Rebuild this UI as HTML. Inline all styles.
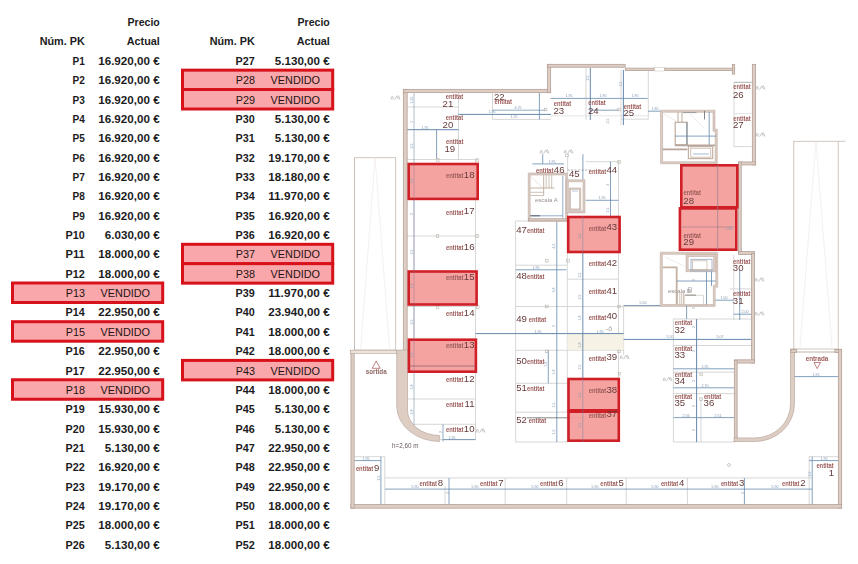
<!DOCTYPE html>
<html><head><meta charset="utf-8">
<style>
html,body{margin:0;padding:0;background:#fff;}
body{width:858px;height:564px;overflow:hidden;position:relative;}
svg{position:absolute;left:0;top:0;}
text{font-family:"Liberation Sans",sans-serif;}
.b{font-weight:bold;font-size:10.6px;fill:#1c1c1e;}
.r{font-size:10.6px;fill:#1e1414;}
.l{font-size:6.3px;font-weight:bold;fill:#9c5c5a;}
.n{font-size:9.6px;fill:#663a3a;}
.g{font-size:5px;fill:#aaa;}
.g2{font-size:6px;fill:#9a8f8f;}
.g4{font-size:7px;fill:#a09c9a;}
.d{font-size:3.6px;fill:#7f97b0;}
.g3{font-size:6.3px;fill:#6a5a5a;}
</style></head><body>
<svg width="858" height="564" viewBox="0 0 858 564">
<g style="filter:blur(0.3px)">
<rect x="354.5" y="157.7" width="41.19999999999999" height="192.3" fill="none" stroke="#c6bab0" stroke-width="0.8"/>
<path d="M360.5 350 L375.1 157.7 L389.7 350" fill="none" stroke="#ece8e4" stroke-width="0.6"/>
<line x1="354.5" y1="157.7" x2="354.5" y2="350" stroke="#c6bab0" stroke-width="0.8"/>
<rect x="793.8" y="141.3" width="44.40000000000009" height="207.7" fill="none" stroke="#c6bab0" stroke-width="0.8"/>
<path d="M799.8 349 L816.0 141.3 L832.2 349" fill="none" stroke="#ece8e4" stroke-width="0.6"/>
<line x1="838.2" y1="141.3" x2="845.7" y2="141.3" stroke="#c6bab0" stroke-width="0.8"/>
<line x1="475.5" y1="160" x2="475.5" y2="440" stroke="#cdcdcd" stroke-width="0.8"/>
<line x1="458.5" y1="93" x2="458.5" y2="160" stroke="#cdcdcd" stroke-width="0.8"/>
<line x1="407" y1="107" x2="458.5" y2="107" stroke="#cdcdcd" stroke-width="0.8"/>
<line x1="407" y1="159.5" x2="478" y2="159.5" stroke="#cdcdcd" stroke-width="0.8"/>
<line x1="407" y1="236" x2="478" y2="236" stroke="#cdcdcd" stroke-width="0.8"/>
<line x1="407" y1="306.5" x2="478" y2="306.5" stroke="#cdcdcd" stroke-width="0.8"/>
<line x1="407" y1="399" x2="475.5" y2="399" stroke="#cdcdcd" stroke-width="0.8"/>
<line x1="407" y1="424.3" x2="475.5" y2="424.3" stroke="#cdcdcd" stroke-width="0.8"/>
<line x1="440" y1="439.6" x2="475.5" y2="439.6" stroke="#cdcdcd" stroke-width="0.8"/>
<line x1="492.5" y1="93" x2="492.5" y2="119.4" stroke="#cdcdcd" stroke-width="0.8"/>
<line x1="492.5" y1="119.4" x2="551" y2="119.4" stroke="#cdcdcd" stroke-width="0.8"/>
<line x1="551" y1="115.8" x2="648" y2="115.8" stroke="#dedede" stroke-width="0.8"/>
<line x1="586" y1="68" x2="586" y2="120" stroke="#cdcdcd" stroke-width="0.8"/>
<line x1="621" y1="70" x2="621" y2="125" stroke="#cdcdcd" stroke-width="0.8"/>
<line x1="648.3" y1="70" x2="648.3" y2="119.2" stroke="#cdcdcd" stroke-width="0.8"/>
<line x1="621" y1="119.2" x2="648.3" y2="119.2" stroke="#cdcdcd" stroke-width="0.8"/>
<line x1="515.6" y1="221" x2="515.6" y2="442" stroke="#cdcdcd" stroke-width="0.8"/>
<line x1="515.6" y1="221" x2="528" y2="221" stroke="#cdcdcd" stroke-width="0.8"/>
<line x1="567.3" y1="221" x2="567.3" y2="442" stroke="#cdcdcd" stroke-width="0.8"/>
<line x1="618.5" y1="161.7" x2="618.5" y2="442" stroke="#cdcdcd" stroke-width="0.8"/>
<line x1="585.8" y1="161.7" x2="620" y2="161.7" stroke="#cdcdcd" stroke-width="0.8"/>
<line x1="515.6" y1="265.2" x2="567" y2="265.2" stroke="#cdcdcd" stroke-width="0.8"/>
<line x1="567" y1="279.2" x2="618.5" y2="279.2" stroke="#cdcdcd" stroke-width="0.8"/>
<line x1="515.6" y1="306.5" x2="660" y2="306.5" stroke="#cdcdcd" stroke-width="0.8"/>
<line x1="515.6" y1="350.3" x2="623.6" y2="350.3" stroke="#cdcdcd" stroke-width="0.8"/>
<line x1="515.6" y1="383.3" x2="567" y2="383.3" stroke="#cdcdcd" stroke-width="0.8"/>
<line x1="515.6" y1="412.2" x2="567" y2="412.2" stroke="#cdcdcd" stroke-width="0.8"/>
<line x1="515.6" y1="442" x2="567" y2="442" stroke="#cdcdcd" stroke-width="0.8"/>
<line x1="623.6" y1="305.5" x2="623.6" y2="355" stroke="#cdcdcd" stroke-width="0.8"/>
<rect x="567.5" y="334" width="56" height="16.3" fill="#f6f3e6"/>
<line x1="673.4" y1="319" x2="752" y2="319" stroke="#cdcdcd" stroke-width="0.8"/>
<line x1="673.4" y1="319" x2="673.4" y2="442" stroke="#cdcdcd" stroke-width="0.8"/>
<line x1="701" y1="398.5" x2="701" y2="442" stroke="#cdcdcd" stroke-width="0.8"/>
<line x1="673.4" y1="345.5" x2="752" y2="345.5" stroke="#cdcdcd" stroke-width="0.8"/>
<line x1="673.4" y1="372.2" x2="735" y2="372.2" stroke="#cdcdcd" stroke-width="0.8"/>
<line x1="673.4" y1="393.6" x2="735" y2="393.6" stroke="#cdcdcd" stroke-width="0.8"/>
<line x1="673.4" y1="442" x2="735" y2="442" stroke="#cdcdcd" stroke-width="0.8"/>
<line x1="733.8" y1="255" x2="733.8" y2="320" stroke="#cdcdcd" stroke-width="0.8"/>
<line x1="730" y1="288.9" x2="752" y2="288.9" stroke="#cdcdcd" stroke-width="0.8"/>
<line x1="734" y1="82.3" x2="734" y2="146.6" stroke="#cdcdcd" stroke-width="0.8"/>
<line x1="734" y1="82.3" x2="751.7" y2="82.3" stroke="#9a9a9a" stroke-width="0.8"/>
<line x1="734" y1="113.5" x2="751.7" y2="113.5" stroke="#e0e0e0" stroke-width="0.8"/>
<line x1="734" y1="146.6" x2="751.7" y2="146.6" stroke="#cdcdcd" stroke-width="0.8"/>
<line x1="384.8" y1="477.9" x2="812" y2="477.9" stroke="#cdcdcd" stroke-width="0.8"/>
<line x1="384.8" y1="456.4" x2="384.8" y2="505" stroke="#cdcdcd" stroke-width="0.8"/>
<line x1="354.5" y1="456.7" x2="385" y2="456.7" stroke="#cdcdcd" stroke-width="0.8"/>
<line x1="505.2" y1="477.9" x2="505.2" y2="505" stroke="#cdcdcd" stroke-width="0.8"/>
<line x1="566.7" y1="477.9" x2="566.7" y2="505" stroke="#cdcdcd" stroke-width="0.8"/>
<line x1="626.2" y1="477.9" x2="626.2" y2="505" stroke="#cdcdcd" stroke-width="0.8"/>
<line x1="687.4" y1="477.9" x2="687.4" y2="505" stroke="#cdcdcd" stroke-width="0.8"/>
<line x1="445" y1="486" x2="445" y2="505" stroke="#cdcdcd" stroke-width="0.8"/>
<line x1="809.2" y1="456.7" x2="809.2" y2="505" stroke="#cdcdcd" stroke-width="0.8"/>
<line x1="809.2" y1="456.7" x2="838" y2="456.7" stroke="#cdcdcd" stroke-width="0.8"/>
<line x1="414" y1="93" x2="414" y2="425" stroke="#8aa3bd" stroke-width="0.7"/>
<line x1="406.5" y1="129.7" x2="458.5" y2="129.7" stroke="#6489ad" stroke-width="1.0"/>
<line x1="436.6" y1="129.7" x2="436.6" y2="159" stroke="#6489ad" stroke-width="0.8"/>
<line x1="458.5" y1="114.4" x2="551" y2="114.4" stroke="#6489ad" stroke-width="1.0"/>
<line x1="539.4" y1="93" x2="539.4" y2="119.4" stroke="#6489ad" stroke-width="0.8"/>
<line x1="590.3" y1="68" x2="590.3" y2="120" stroke="#6489ad" stroke-width="1.0"/>
<line x1="550.5" y1="98.4" x2="647.7" y2="98.4" stroke="#6489ad" stroke-width="0.8"/>
<line x1="589.6" y1="110.2" x2="619" y2="110.2" stroke="#6489ad" stroke-width="0.8"/>
<line x1="492.4" y1="110.2" x2="545.6" y2="110.2" stroke="#6489ad" stroke-width="0.7"/>
<line x1="623.4" y1="70" x2="623.4" y2="125" stroke="#6489ad" stroke-width="1.0"/>
<line x1="648" y1="111.2" x2="661" y2="111.2" stroke="#6489ad" stroke-width="0.8"/>
<line x1="532.4" y1="163.9" x2="564.2" y2="163.9" stroke="#6489ad" stroke-width="0.8"/>
<line x1="542.7" y1="154.2" x2="542.7" y2="163.9" stroke="#6489ad" stroke-width="0.8"/>
<line x1="582.9" y1="154.2" x2="582.9" y2="179.8" stroke="#6489ad" stroke-width="0.8"/>
<line x1="610.5" y1="161.7" x2="610.5" y2="216" stroke="#6489ad" stroke-width="0.8"/>
<line x1="585.8" y1="200.3" x2="618.5" y2="200.3" stroke="#6489ad" stroke-width="0.8"/>
<line x1="582.8" y1="216" x2="582.8" y2="442" stroke="#6489ad" stroke-width="0.7"/>
<line x1="556.8" y1="221" x2="556.8" y2="442" stroke="#6489ad" stroke-width="0.8"/>
<line x1="515.6" y1="269.8" x2="566.5" y2="269.8" stroke="#6489ad" stroke-width="0.8"/>
<line x1="475.5" y1="333.6" x2="623.6" y2="333.6" stroke="#6489ad" stroke-width="1.0"/>
<line x1="623.6" y1="305.5" x2="660.8" y2="305.5" stroke="#6489ad" stroke-width="0.8"/>
<line x1="623.6" y1="339.4" x2="751.5" y2="339.4" stroke="#6489ad" stroke-width="1.0"/>
<line x1="548.3" y1="350.3" x2="548.3" y2="383.3" stroke="#6489ad" stroke-width="0.8"/>
<line x1="696.6" y1="319" x2="696.6" y2="442" stroke="#6489ad" stroke-width="1.0"/>
<line x1="739.7" y1="270" x2="739.7" y2="320" stroke="#6489ad" stroke-width="0.8"/>
<line x1="733.8" y1="314.2" x2="752" y2="314.2" stroke="#6489ad" stroke-width="0.8"/>
<line x1="714.6" y1="300.2" x2="733.8" y2="300.2" stroke="#6489ad" stroke-width="0.8"/>
<line x1="673.4" y1="368.8" x2="735" y2="368.8" stroke="#6489ad" stroke-width="0.8"/>
<line x1="673.4" y1="387.8" x2="735" y2="387.8" stroke="#6489ad" stroke-width="0.8"/>
<line x1="673.4" y1="417.6" x2="735" y2="417.6" stroke="#6489ad" stroke-width="0.8"/>
<line x1="385" y1="489.1" x2="812" y2="489.1" stroke="#6489ad" stroke-width="0.8"/>
<line x1="380.9" y1="456.7" x2="380.9" y2="505" stroke="#6489ad" stroke-width="0.8"/>
<line x1="354.5" y1="460.6" x2="380.9" y2="460.6" stroke="#6489ad" stroke-width="0.8"/>
<line x1="449" y1="478" x2="449" y2="505" stroke="#6489ad" stroke-width="0.8"/>
<line x1="744.4" y1="478" x2="744.4" y2="505" stroke="#6489ad" stroke-width="0.8"/>
<line x1="812.2" y1="456.7" x2="812.2" y2="505" stroke="#6489ad" stroke-width="0.8"/>
<line x1="809" y1="460.6" x2="838" y2="460.6" stroke="#6489ad" stroke-width="0.8"/>
<line x1="794" y1="376.6" x2="838" y2="376.6" stroke="#6489ad" stroke-width="0.8"/>
<line x1="443" y1="439.6" x2="475.5" y2="439.6" stroke="#6489ad" stroke-width="0.8"/>
<line x1="443" y1="424.3" x2="443" y2="441.5" stroke="#6489ad" stroke-width="0.7"/>
<line x1="527" y1="417.8" x2="585" y2="417.8" stroke="#555" stroke-width="0.7"/>
<rect x="436.5" y="158.7" width="2.6" height="2.6" fill="none" stroke="#b9b2a8" stroke-width="0.6"/>
<rect x="476.0" y="158.7" width="2.6" height="2.6" fill="none" stroke="#b9b2a8" stroke-width="0.6"/>
<rect x="436.2" y="234.7" width="2.6" height="2.6" fill="none" stroke="#b9b2a8" stroke-width="0.6"/>
<rect x="475.8" y="234.7" width="2.6" height="2.6" fill="none" stroke="#b9b2a8" stroke-width="0.6"/>
<rect x="436.2" y="305.7" width="2.6" height="2.6" fill="none" stroke="#b9b2a8" stroke-width="0.6"/>
<rect x="476.4" y="305.7" width="2.6" height="2.6" fill="none" stroke="#b9b2a8" stroke-width="0.6"/>
<rect x="545.5" y="259.4" width="2.6" height="2.6" fill="none" stroke="#b9b2a8" stroke-width="0.6"/>
<rect x="566.7" y="259.4" width="2.6" height="2.6" fill="none" stroke="#b9b2a8" stroke-width="0.6"/>
<rect x="545.5" y="305.2" width="2.6" height="2.6" fill="none" stroke="#b9b2a8" stroke-width="0.6"/>
<rect x="617.7" y="305.2" width="2.6" height="2.6" fill="none" stroke="#b9b2a8" stroke-width="0.6"/>
<rect x="545.5" y="350.09999999999997" width="2.6" height="2.6" fill="none" stroke="#b9b2a8" stroke-width="0.6"/>
<rect x="617.7" y="350.09999999999997" width="2.6" height="2.6" fill="none" stroke="#b9b2a8" stroke-width="0.6"/>
<rect x="618.1" y="372.4" width="2.6" height="2.6" fill="none" stroke="#b9b2a8" stroke-width="0.6"/>
<rect x="565.7" y="154.2" width="2.6" height="2.6" fill="none" stroke="#b9b2a8" stroke-width="0.6"/>
<rect x="617.7" y="108.2" width="2.6" height="2.6" fill="none" stroke="#b9b2a8" stroke-width="0.6"/>
<rect x="544.3000000000001" y="108.2" width="2.6" height="2.6" fill="none" stroke="#b9b2a8" stroke-width="0.6"/>
<rect x="617.7" y="160.7" width="2.6" height="2.6" fill="none" stroke="#b9b2a8" stroke-width="0.6"/>
<rect x="699.9000000000001" y="373.2" width="2.6" height="2.6" fill="none" stroke="#b9b2a8" stroke-width="0.6"/>
<rect x="699.7" y="397.7" width="2.6" height="2.6" fill="none" stroke="#b9b2a8" stroke-width="0.6"/>
<rect x="403.35" y="89.35" width="3.80" height="262.30" fill="#ddcdc3" stroke="#b4a098" stroke-width="0.8"/>
<rect x="403.35" y="89.35" width="147.30" height="3.30" fill="#ddcdc3" stroke="#b4a098" stroke-width="0.8"/>
<rect x="547.35" y="64.35" width="3.30" height="28.30" fill="#ddcdc3" stroke="#b4a098" stroke-width="0.8"/>
<rect x="547.35" y="64.35" width="77.80" height="2.90" fill="#ddcdc3" stroke="#b4a098" stroke-width="0.8"/>
<rect x="625.35" y="68.15" width="28.80" height="2.30" fill="#ddcdc3" stroke="#b4a098" stroke-width="0.8"/>
<rect x="664.55" y="68.15" width="70.10" height="2.30" fill="#ddcdc3" stroke="#b4a098" stroke-width="0.8"/>
<rect x="654.5" y="67.6" width="9.7" height="3.4" fill="#fff" stroke="#c9bdb1" stroke-width="0.5"/>
<rect x="732.35" y="64.35" width="2.30" height="9.80" fill="#ddcdc3" stroke="#b4a098" stroke-width="0.8"/>
<rect x="752.35" y="64.35" width="3.30" height="100.60" fill="#ddcdc3" stroke="#b4a098" stroke-width="0.8"/>
<rect x="738.65" y="161.95" width="17.00" height="3.00" fill="#ddcdc3" stroke="#b4a098" stroke-width="0.8"/>
<rect x="738.65" y="161.95" width="2.60" height="92.20" fill="#ddcdc3" stroke="#b4a098" stroke-width="0.8"/>
<rect x="738.65" y="251.55" width="15.80" height="2.90" fill="#ddcdc3" stroke="#b4a098" stroke-width="0.8"/>
<rect x="751.55" y="253.35" width="2.90" height="109.70" fill="#ddcdc3" stroke="#b4a098" stroke-width="0.8"/>
<rect x="734.35" y="359.85" width="20.10" height="3.20" fill="#ddcdc3" stroke="#b4a098" stroke-width="0.8"/>
<rect x="734.35" y="360.35" width="2.80" height="80.80" fill="#ddcdc3" stroke="#b4a098" stroke-width="0.8"/>
<path d="M734 437.9 L755 437.9 A35.5 33.9 0 0 0 790.5 404 L790.5 349 L794.5 349 L794.5 404 A39.5 37.5 0 0 1 755 441.5 L734 441.5 Z" fill="#ddcdc3" stroke="#b4a098" stroke-width="0.6"/>
<line x1="794.5" y1="352" x2="838" y2="352" stroke="#b9aca0" stroke-width="0.9"/>
<rect x="790.85" y="349.35" width="5.80" height="3.00" fill="#ddcdc3" stroke="#b4a098" stroke-width="0.8"/>
<rect x="834.85" y="349.35" width="6.80" height="3.00" fill="#ddcdc3" stroke="#b4a098" stroke-width="0.8"/>
<rect x="838.35" y="349.35" width="3.30" height="158.80" fill="#ddcdc3" stroke="#b4a098" stroke-width="0.8"/>
<rect x="350.95" y="504.55" width="490.70" height="3.60" fill="#ddcdc3" stroke="#b4a098" stroke-width="0.8"/>
<rect x="350.95" y="350.35" width="3.20" height="157.80" fill="#ddcdc3" stroke="#b4a098" stroke-width="0.8"/>
<rect x="350.6" y="350.2" width="46.1" height="3.2" fill="#ece4dc" stroke="#b5a596" stroke-width="0.6"/>
<path d="M396.7 350 L407.5 350 L407.5 410 A32.2 25.5 0 0 0 439.7 435.5 L439.7 441.5 A43 35.5 0 0 1 396.7 406 Z" fill="#ddcdc3" stroke="#b4a098" stroke-width="0.6"/>
<path d="M528.2 173 H567.6 V221.3 H528.2 Z M530.2 175.0 V219.3 H565.6 V175.0 Z" fill="#ddcdc3" fill-rule="evenodd" stroke="#b4a098" stroke-width="0.5"/>
<rect x="528.55" y="218.75" width="38.70" height="2.20" fill="#ddcdc3" stroke="#b4a098" stroke-width="0.8"/>
<path d="M566.3 179.8 H585 V213 H566.3 Z M568.3 181.8 V211.0 H583.0 V181.8 Z" fill="#ddcdc3" fill-rule="evenodd" stroke="#b4a098" stroke-width="0.5"/>
<path d="M569.2 188 H580.8 V210.2 H569.2 Z M570.5 189.3 V208.89999999999998 H579.5 V189.3 Z" fill="#ddcdc3" fill-rule="evenodd" stroke="#b4a098" stroke-width="0.5"/>
<line x1="572" y1="191" x2="578" y2="191" stroke="#8da2c0" stroke-width="0.6"/>
<line x1="543.7" y1="175" x2="543.7" y2="195.7" stroke="#c3b2a3" stroke-width="1.0"/>
<line x1="530.3" y1="188" x2="554.5" y2="188" stroke="#c3b2a3" stroke-width="1.0"/>
<line x1="530.3" y1="192.3" x2="543.7" y2="192.3" stroke="#c3b2a3" stroke-width="0.8"/>
<line x1="530.3" y1="195.5" x2="543.7" y2="195.5" stroke="#c3b2a3" stroke-width="0.8"/>
<line x1="546.2" y1="175" x2="546.2" y2="188" stroke="#c3b2a3" stroke-width="0.8"/>
<line x1="549" y1="175" x2="549" y2="188" stroke="#c3b2a3" stroke-width="0.8"/>
<line x1="551.7" y1="175" x2="551.7" y2="188" stroke="#c3b2a3" stroke-width="0.8"/>
<line x1="531" y1="176.4" x2="542.7" y2="188" stroke="#d8d0c8" stroke-width="0.6"/>
<text class="g2" x="535" y="202.3" text-anchor="start" >escala A</text>
<line x1="562.8" y1="175.7" x2="562.8" y2="217.8" stroke="#6489ad" stroke-width="0.7"/>
<line x1="530.3" y1="215.8" x2="562.8" y2="215.8" stroke="#6489ad" stroke-width="0.7"/>
<line x1="530.3" y1="215.8" x2="540" y2="215.8" stroke="#445" stroke-width="0.8"/>
<line x1="567.6" y1="155.6" x2="567.6" y2="179.8" stroke="#c8c8c8" stroke-width="0.7"/>
<line x1="567.6" y1="170" x2="592" y2="170" stroke="#777" stroke-width="0.6" stroke-dasharray="2,1.5"/>
<path d="M660.5 110.2 H715 V129.2 H717.3 V163.8 H660.5 Z M662.6 112.3 V161.8 H715.2 V131.2 H713 V112.3 Z" fill="#ddcdc3" fill-rule="evenodd" stroke="#b4a098" stroke-width="0.5"/>
<rect x="675.2" y="122.3" width="12.1" height="22.5" fill="none" stroke="#c3b2a3" stroke-width="1.3"/>
<rect x="675.35" y="144.95" width="39.30" height="0.90" fill="#ddcdc3" stroke="#b4a098" stroke-width="0.8"/>
<line x1="675" y1="136.1" x2="716" y2="136.1" stroke="#6489ad" stroke-width="0.8"/>
<line x1="686.7" y1="122.3" x2="686.7" y2="144.8" stroke="#6489ad" stroke-width="0.8"/>
<line x1="709.2" y1="112" x2="709.2" y2="144.8" stroke="#6489ad" stroke-width="0.8"/>
<rect x="688.4" y="146.5" width="24.3" height="12.1" fill="none" stroke="#c3b2a3" stroke-width="1.2"/>
<rect x="690.8" y="148.2" width="20" height="9" fill="none" stroke="#c3b2a3" stroke-width="0.8"/>
<line x1="693" y1="154" x2="709" y2="154" stroke="#7f9cc0" stroke-width="0.7"/>
<rect x="662.85" y="148.95" width="24.10" height="0.90" fill="#ddcdc3" stroke="#b4a098" stroke-width="0.8"/>
<line x1="678" y1="112" x2="678" y2="122.3" stroke="#c3b2a3" stroke-width="1.1"/>
<line x1="682" y1="112" x2="682" y2="122.3" stroke="#c3b2a3" stroke-width="1.1"/>
<line x1="704.5" y1="110.8" x2="704.5" y2="119.4" stroke="#777" stroke-width="0.9"/>
<line x1="683" y1="112.6" x2="696.5" y2="112.6" stroke="#8a8a8a" stroke-width="0.8"/>
<line x1="664" y1="114" x2="676" y2="121" stroke="#e0dcd8" stroke-width="0.6"/>
<line x1="690" y1="114" x2="704" y2="128" stroke="#e0dcd8" stroke-width="0.6"/>
<path d="M660.2 252.2 H717.7 V287.2 H715.2 V306.4 H660.2 Z M662.4 254.3 V304.6 H713.3 V285.2 H715.8 V254.3 Z" fill="#ddcdc3" fill-rule="evenodd" stroke="#b4a098" stroke-width="0.5"/>
<path d="M686 254.3 H715.8 V271.7 H686 Z M688.2 256.5 V269.5 H713.5999999999999 V256.5 Z" fill="#ddcdc3" fill-rule="evenodd" stroke="#b4a098" stroke-width="0.5"/>
<rect x="691" y="259.3" width="21" height="11.7" fill="none" stroke="#8fa6c4" stroke-width="0.8"/>
<rect x="692.5" y="260.8" width="14.5" height="9" fill="none" stroke="#c3b2a3" stroke-width="0.7"/>
<path d="M663 267.3 H676.7 V304.6" fill="none" stroke="#c3b2a3" stroke-width="1.8"/>
<line x1="676.7" y1="281" x2="715.8" y2="281" stroke="#6489ad" stroke-width="0.8"/>
<line x1="706.5" y1="271.7" x2="706.5" y2="304.6" stroke="#6489ad" stroke-width="0.8"/>
<line x1="711.5" y1="271.7" x2="711.5" y2="286" stroke="#6489ad" stroke-width="0.8"/>
<text class="g2" x="668" y="292.8" text-anchor="start" >escala B</text>
<rect x="688.2" y="287.8" width="3.4" height="4.2" fill="none" stroke="#999" stroke-width="0.6"/>
<line x1="684.8" y1="295.2" x2="696" y2="295.2" stroke="#555" stroke-width="0.9"/>
<line x1="677.3" y1="292" x2="677.3" y2="304.6" stroke="#c3b2a3" stroke-width="0.8"/>
<line x1="679.8" y1="292" x2="679.8" y2="304.6" stroke="#c3b2a3" stroke-width="0.8"/>
<line x1="681.7" y1="292" x2="681.7" y2="304.6" stroke="#c3b2a3" stroke-width="0.8"/>
<line x1="683.5" y1="292" x2="683.5" y2="304.6" stroke="#c3b2a3" stroke-width="0.8"/>
<rect x="684.8" y="295.2" width="18.6" height="10.4" fill="none" stroke="#c8c0b8" stroke-width="0.6"/>
<line x1="686.6" y1="305.8" x2="686.6" y2="319" stroke="#6489ad" stroke-width="0.8"/>
<line x1="665" y1="257" x2="684" y2="266" stroke="#e3dfdb" stroke-width="0.6"/>
<rect x="408.7" y="164.0" width="69.00" height="34.90" fill="#f39e9c" fill-opacity="0.95" stroke="#cf1f27" stroke-width="2.6"/>
<rect x="408.7" y="271.5" width="67.90" height="33.00" fill="#f39e9c" fill-opacity="0.95" stroke="#cf1f27" stroke-width="2.6"/>
<rect x="408.90000000000003" y="339.7" width="67.00" height="32.00" fill="#f39e9c" fill-opacity="0.95" stroke="#cf1f27" stroke-width="2.6"/>
<rect x="568.1999999999999" y="217.0" width="51.40" height="35.00" fill="#f39e9c" fill-opacity="0.95" stroke="#cf1f27" stroke-width="2.6"/>
<rect x="568.5" y="379.0" width="50.30" height="31.30" fill="#f39e9c" fill-opacity="0.95" stroke="#cf1f27" stroke-width="2.6"/>
<rect x="568.5" y="411.7" width="50.30" height="29.00" fill="#f39e9c" fill-opacity="0.95" stroke="#cf1f27" stroke-width="2.6"/>
<rect x="681.3" y="165.3" width="56.00" height="42.00" fill="#f39e9c" fill-opacity="0.95" stroke="#cf1f27" stroke-width="2.6"/>
<rect x="679.9" y="208.4" width="56.40" height="41.30" fill="#f39e9c" fill-opacity="0.95" stroke="#cf1f27" stroke-width="2.6"/>
<line x1="414" y1="163" x2="414" y2="373" stroke="#8a6f90" stroke-width="0.6" opacity="0.6"/>
<line x1="582.8" y1="216" x2="582.8" y2="442" stroke="#6489ad" stroke-width="0.7" opacity="0.6"/>
<line x1="717.7" y1="165" x2="717.7" y2="250" stroke="#9a7c86" stroke-width="0.7"/>
<line x1="680.6" y1="227" x2="734.5" y2="227" stroke="#9a7c86" stroke-width="0.6"/>
<line x1="410" y1="366" x2="476" y2="366" stroke="#7a5060" stroke-width="0.6"/>
<text class="n" x="474.5" y="177.6" text-anchor="end" >18</text>
<text class="l" x="463.5" y="178.0" text-anchor="end" textLength="17.4" lengthAdjust="spacingAndGlyphs">entitat</text>
<text class="n" x="474.5" y="214.1" text-anchor="end" >17</text>
<text class="l" x="463.5" y="214.5" text-anchor="end" textLength="17.4" lengthAdjust="spacingAndGlyphs">entitat</text>
<text class="n" x="474.5" y="249.9" text-anchor="end" >16</text>
<text class="l" x="463.5" y="250.3" text-anchor="end" textLength="17.4" lengthAdjust="spacingAndGlyphs">entitat</text>
<text class="n" x="474.5" y="279.5" text-anchor="end" >15</text>
<text class="l" x="463.5" y="279.9" text-anchor="end" textLength="17.4" lengthAdjust="spacingAndGlyphs">entitat</text>
<text class="n" x="474.5" y="315.8" text-anchor="end" >14</text>
<text class="l" x="463.5" y="316.2" text-anchor="end" textLength="17.4" lengthAdjust="spacingAndGlyphs">entitat</text>
<text class="n" x="474.5" y="347.8" text-anchor="end" >13</text>
<text class="l" x="463.5" y="348.2" text-anchor="end" textLength="17.4" lengthAdjust="spacingAndGlyphs">entitat</text>
<text class="n" x="474.5" y="381.8" text-anchor="end" >12</text>
<text class="l" x="463.5" y="382.2" text-anchor="end" textLength="17.4" lengthAdjust="spacingAndGlyphs">entitat</text>
<text class="n" x="474.5" y="406.6" text-anchor="end" >11</text>
<text class="l" x="463.5" y="407.0" text-anchor="end" textLength="17.4" lengthAdjust="spacingAndGlyphs">entitat</text>
<text class="n" x="474.5" y="431.6" text-anchor="end" >10</text>
<text class="l" x="463.5" y="432.0" text-anchor="end" textLength="17.4" lengthAdjust="spacingAndGlyphs">entitat</text>
<text class="n" x="617.2" y="173.1" text-anchor="end" >44</text>
<text class="l" x="606.2" y="173.5" text-anchor="end" textLength="17.4" lengthAdjust="spacingAndGlyphs">entitat</text>
<text class="n" x="617.2" y="230.2" text-anchor="end" >43</text>
<text class="l" x="606.2" y="230.6" text-anchor="end" textLength="17.4" lengthAdjust="spacingAndGlyphs">entitat</text>
<text class="n" x="617.2" y="265.6" text-anchor="end" >42</text>
<text class="l" x="606.2" y="266.0" text-anchor="end" textLength="17.4" lengthAdjust="spacingAndGlyphs">entitat</text>
<text class="n" x="617.2" y="293.6" text-anchor="end" >41</text>
<text class="l" x="606.2" y="294.0" text-anchor="end" textLength="17.4" lengthAdjust="spacingAndGlyphs">entitat</text>
<text class="n" x="617.2" y="319.3" text-anchor="end" >40</text>
<text class="l" x="606.2" y="319.7" text-anchor="end" textLength="17.4" lengthAdjust="spacingAndGlyphs">entitat</text>
<text class="n" x="617.2" y="360.1" text-anchor="end" >39</text>
<text class="l" x="606.2" y="360.5" text-anchor="end" textLength="17.4" lengthAdjust="spacingAndGlyphs">entitat</text>
<text class="n" x="617.2" y="392.70000000000005" text-anchor="end" >38</text>
<text class="l" x="606.2" y="393.1" text-anchor="end" textLength="17.4" lengthAdjust="spacingAndGlyphs">entitat</text>
<text class="n" x="617.2" y="417.3" text-anchor="end" >37</text>
<text class="l" x="606.2" y="417.7" text-anchor="end" textLength="17.4" lengthAdjust="spacingAndGlyphs">entitat</text>
<text class="n" x="564.5" y="172.6" text-anchor="end" >46</text>
<text class="l" x="553.5" y="173.0" text-anchor="end" textLength="17.4" lengthAdjust="spacingAndGlyphs">entitat</text>
<text class="n" x="569" y="177.3" text-anchor="start" >45</text>
<text class="n" x="516.2" y="233.4" text-anchor="start" >47</text>
<text class="l" x="527" y="233.2" text-anchor="start" textLength="17.4" lengthAdjust="spacingAndGlyphs">entitat</text>
<text class="n" x="516.2" y="279.29999999999995" text-anchor="start" >48</text>
<text class="l" x="527" y="279.09999999999997" text-anchor="start" textLength="17.4" lengthAdjust="spacingAndGlyphs">entitat</text>
<text class="n" x="516.2" y="322.2" text-anchor="start" >49</text>
<text class="l" x="528.8" y="322.0" text-anchor="start" textLength="17.4" lengthAdjust="spacingAndGlyphs">entitat</text>
<text class="n" x="516.2" y="364.4" text-anchor="start" >50</text>
<text class="l" x="527" y="364.2" text-anchor="start" textLength="17.4" lengthAdjust="spacingAndGlyphs">entitat</text>
<text class="n" x="516.2" y="391.2" text-anchor="start" >51</text>
<text class="l" x="527" y="391.0" text-anchor="start" textLength="17.4" lengthAdjust="spacingAndGlyphs">entitat</text>
<text class="n" x="516.2" y="423.4" text-anchor="start" >52</text>
<text class="l" x="528.8" y="423.2" text-anchor="start" textLength="17.4" lengthAdjust="spacingAndGlyphs">entitat</text>
<text class="l" x="553.6999999999999" y="105.60000000000001" text-anchor="start" textLength="17.4" lengthAdjust="spacingAndGlyphs">entitat</text>
<text class="n" x="553.4" y="113.8" text-anchor="start" >23</text>
<text class="l" x="588.3" y="105.4" text-anchor="start" textLength="17.4" lengthAdjust="spacingAndGlyphs">entitat</text>
<text class="n" x="588" y="114.2" text-anchor="start" >24</text>
<text class="l" x="623.6999999999999" y="109.2" text-anchor="start" textLength="17.4" lengthAdjust="spacingAndGlyphs">entitat</text>
<text class="n" x="623.4" y="116.3" text-anchor="start" >25</text>
<text class="l" x="733.3" y="89.4" text-anchor="start" textLength="17.4" lengthAdjust="spacingAndGlyphs">entitat</text>
<text class="n" x="733" y="97.8" text-anchor="start" >26</text>
<text class="l" x="733.3" y="120.60000000000001" text-anchor="start" textLength="17.4" lengthAdjust="spacingAndGlyphs">entitat</text>
<text class="n" x="733" y="127.6" text-anchor="start" >27</text>
<text class="l" x="683.5999999999999" y="195.1" text-anchor="start" textLength="17.4" lengthAdjust="spacingAndGlyphs">entitat</text>
<text class="n" x="683.3" y="203.8" text-anchor="start" >28</text>
<text class="l" x="683.5999999999999" y="238.0" text-anchor="start" textLength="17.4" lengthAdjust="spacingAndGlyphs">entitat</text>
<text class="n" x="683.3" y="245.4" text-anchor="start" >29</text>
<text class="l" x="733.0999999999999" y="263.8" text-anchor="start" textLength="17.4" lengthAdjust="spacingAndGlyphs">entitat</text>
<text class="n" x="732.8" y="270.8" text-anchor="start" >30</text>
<text class="l" x="733.0999999999999" y="295.9" text-anchor="start" textLength="17.4" lengthAdjust="spacingAndGlyphs">entitat</text>
<text class="n" x="732.8" y="303.90000000000003" text-anchor="start" >31</text>
<text class="l" x="674.6999999999999" y="324.8" text-anchor="start" textLength="17.4" lengthAdjust="spacingAndGlyphs">entitat</text>
<text class="n" x="674.4" y="333.0" text-anchor="start" >32</text>
<text class="l" x="674.6999999999999" y="351.0" text-anchor="start" textLength="17.4" lengthAdjust="spacingAndGlyphs">entitat</text>
<text class="n" x="674.4" y="358.40000000000003" text-anchor="start" >33</text>
<text class="l" x="674.6999999999999" y="377.2" text-anchor="start" textLength="17.4" lengthAdjust="spacingAndGlyphs">entitat</text>
<text class="n" x="674.4" y="384.1" text-anchor="start" >34</text>
<text class="l" x="674.6999999999999" y="398.7" text-anchor="start" textLength="17.4" lengthAdjust="spacingAndGlyphs">entitat</text>
<text class="n" x="674.4" y="406.2" text-anchor="start" >35</text>
<text class="l" x="703.9" y="398.7" text-anchor="start" textLength="17.4" lengthAdjust="spacingAndGlyphs">entitat</text>
<text class="n" x="703.6" y="406.2" text-anchor="start" >36</text>
<text class="l" x="445.8" y="98.9" text-anchor="start" textLength="17.4" lengthAdjust="spacingAndGlyphs">entitat</text>
<text class="n" x="442.6" y="107.1" text-anchor="start" >21</text>
<text class="l" x="445.8" y="119.8" text-anchor="start" textLength="17.4" lengthAdjust="spacingAndGlyphs">entitat</text>
<text class="n" x="442.6" y="128.0" text-anchor="start" >20</text>
<text class="l" x="446.0" y="143.79999999999998" text-anchor="start" textLength="17.4" lengthAdjust="spacingAndGlyphs">entitat</text>
<text class="n" x="444.4" y="151.5" text-anchor="start" >19</text>
<text class="n" x="494" y="99.8" text-anchor="start" >22</text>
<text class="l" x="494.5" y="104.2" text-anchor="start" textLength="17.4" lengthAdjust="spacingAndGlyphs">entitat</text>
<text class="n" x="379.4" y="470.7" text-anchor="end" >9</text>
<text class="l" x="373.29999999999995" y="470.5" text-anchor="end" textLength="17.4" lengthAdjust="spacingAndGlyphs">entitat</text>
<text class="n" x="443" y="485.79999999999995" text-anchor="end" >8</text>
<text class="l" x="436.9" y="485.59999999999997" text-anchor="end" textLength="17.4" lengthAdjust="spacingAndGlyphs">entitat</text>
<text class="n" x="503.6" y="485.79999999999995" text-anchor="end" >7</text>
<text class="l" x="497.5" y="485.59999999999997" text-anchor="end" textLength="17.4" lengthAdjust="spacingAndGlyphs">entitat</text>
<text class="n" x="563.6" y="485.79999999999995" text-anchor="end" >6</text>
<text class="l" x="557.5" y="485.59999999999997" text-anchor="end" textLength="17.4" lengthAdjust="spacingAndGlyphs">entitat</text>
<text class="n" x="623.8" y="485.79999999999995" text-anchor="end" >5</text>
<text class="l" x="617.6999999999999" y="485.59999999999997" text-anchor="end" textLength="17.4" lengthAdjust="spacingAndGlyphs">entitat</text>
<text class="n" x="684.4" y="485.79999999999995" text-anchor="end" >4</text>
<text class="l" x="678.3" y="485.59999999999997" text-anchor="end" textLength="17.4" lengthAdjust="spacingAndGlyphs">entitat</text>
<text class="n" x="744.4" y="485.79999999999995" text-anchor="end" >3</text>
<text class="l" x="738.3" y="485.59999999999997" text-anchor="end" textLength="17.4" lengthAdjust="spacingAndGlyphs">entitat</text>
<text class="n" x="805.6" y="485.79999999999995" text-anchor="end" >2</text>
<text class="l" x="799.5" y="485.59999999999997" text-anchor="end" textLength="17.4" lengthAdjust="spacingAndGlyphs">entitat</text>
<text class="l" x="833.8" y="467.9" text-anchor="end" textLength="17.4" lengthAdjust="spacingAndGlyphs">entitat</text>
<text class="n" x="834" y="476.2" text-anchor="end" >1</text>
<path d="M376.2 360.9 L380.2 368.3 L372.2 368.3 Z" fill="none" stroke="#a85050" stroke-width="0.7"/>
<text class="l" x="376.2" y="374" text-anchor="middle" style="fill:#8f6565">sortida</text>
<path d="M814 362.5 L820.5 362.5 L817.2 368.6 Z" fill="none" stroke="#a85050" stroke-width="0.7"/>
<text class="l" x="817" y="360.6" text-anchor="middle" >entrada</text>
<text class="g3" x="392" y="448.3" text-anchor="start" >h=2,60 m</text>
<path d="M391 99.5 l1.2 -3.5 M393 99.5 l0 -3 M394.5 99.8 l2.5 -4 l1.5 3.5 M398.5 95.5 l1.5 4" fill="none" stroke="#b0aeac" stroke-width="0.7"/>
<path d="M540 153.5 l1.2 -3.5 M542 153.5 l0 -3 M543.5 153.8 l2.5 -4 l1.5 3.5 M547.5 149.5 l1.5 4" fill="none" stroke="#b0aeac" stroke-width="0.7"/>
<path d="M564 153.5 l1.2 -3.5 M566 153.5 l0 -3 M567.5 153.8 l2.5 -4 l1.5 3.5 M571.5 149.5 l1.5 4" fill="none" stroke="#b0aeac" stroke-width="0.7"/>
<path d="M756 89.5 l1.2 -3.5 M758 89.5 l0 -3 M759.5 89.8 l2.5 -4 l1.5 3.5 M763.5 85.5 l1.5 4" fill="none" stroke="#b0aeac" stroke-width="0.7"/>
<path d="M756 136.5 l1.2 -3.5 M758 136.5 l0 -3 M759.5 136.8 l2.5 -4 l1.5 3.5 M763.5 132.5 l1.5 4" fill="none" stroke="#b0aeac" stroke-width="0.7"/>
<path d="M476 432.5 l1.2 -3.5 M478 432.5 l0 -3 M479.5 432.8 l2.5 -4 l1.5 3.5 M483.5 428.5 l1.5 4" fill="none" stroke="#b0aeac" stroke-width="0.7"/>
<path d="M620 359.0 l1.2 -3.5 M622 359.0 l0 -3 M623.5 359.3 l2.5 -4 l1.5 3.5 M627.5 355.0 l1.5 4" fill="none" stroke="#b0aeac" stroke-width="0.7"/>
<path d="M663 381.0 l1.2 -3.5 M665 381.0 l0 -3 M666.5 381.3 l2.5 -4 l1.5 3.5 M670.5 377.0 l1.5 4" fill="none" stroke="#b0aeac" stroke-width="0.7"/>
<path d="M755 281.5 l1.2 -3.5 M757 281.5 l0 -3 M758.5 281.8 l2.5 -4 l1.5 3.5 M762.5 277.5 l1.5 4" fill="none" stroke="#b0aeac" stroke-width="0.7"/>
<path d="M755 315.5 l1.2 -3.5 M757 315.5 l0 -3 M758.5 315.8 l2.5 -4 l1.5 3.5 M762.5 311.5 l1.5 4" fill="none" stroke="#b0aeac" stroke-width="0.7"/>
<text class="g4" x="606" y="331" text-anchor="start" >-ô</text>
<text class="d" transform="translate(412.6,100) rotate(-90)" text-anchor="middle">1,95</text>
<text class="d" transform="translate(412.6,122) rotate(-90)" text-anchor="middle">1</text>
<text class="d" transform="translate(412.6,146) rotate(-90)" text-anchor="middle">2,5</text>
<text class="d" transform="translate(412.6,181) rotate(-90)" text-anchor="middle">1,6</text>
<text class="d" transform="translate(412.6,214) rotate(-90)" text-anchor="middle">3</text>
<text class="d" transform="translate(412.6,252) rotate(-90)" text-anchor="middle">2,5</text>
<text class="d" transform="translate(412.6,286) rotate(-90)" text-anchor="middle">1,6</text>
<text class="d" transform="translate(412.6,322) rotate(-90)" text-anchor="middle">2,5</text>
<text class="d" transform="translate(412.6,355) rotate(-90)" text-anchor="middle">1,6</text>
<text class="d" transform="translate(412.6,387) rotate(-90)" text-anchor="middle">1,8</text>
<text class="d" transform="translate(412.6,412) rotate(-90)" text-anchor="middle">1,8</text>
<text class="d" transform="translate(555.4,246) rotate(-90)" text-anchor="middle">4,5</text>
<text class="d" transform="translate(555.4,290) rotate(-90)" text-anchor="middle">3,6</text>
<text class="d" transform="translate(555.4,326) rotate(-90)" text-anchor="middle">3</text>
<text class="d" transform="translate(555.4,372) rotate(-90)" text-anchor="middle">1,6</text>
<text class="d" transform="translate(555.4,405) rotate(-90)" text-anchor="middle">1,5</text>
<text class="d" transform="translate(555.4,432) rotate(-90)" text-anchor="middle">1,5</text>
<text class="d" transform="translate(581.4,236) rotate(-90)" text-anchor="middle">2,5</text>
<text class="d" transform="translate(581.4,275) rotate(-90)" text-anchor="middle">2,5</text>
<text class="d" transform="translate(581.4,297) rotate(-90)" text-anchor="middle">2,5</text>
<text class="d" transform="translate(581.4,318) rotate(-90)" text-anchor="middle">1,8</text>
<text class="d" transform="translate(581.4,345) rotate(-90)" text-anchor="middle">1,8</text>
<text class="d" transform="translate(581.4,367) rotate(-90)" text-anchor="middle">2,5</text>
<text class="d" transform="translate(581.4,395) rotate(-90)" text-anchor="middle">2,5</text>
<text class="d" transform="translate(581.4,425) rotate(-90)" text-anchor="middle">2,5</text>
<text class="d" transform="translate(609.1,121) rotate(-90)" text-anchor="middle">2,5</text>
<text class="d" transform="translate(609.1,185) rotate(-90)" text-anchor="middle">3</text>
<text class="d" transform="translate(609.1,210) rotate(-90)" text-anchor="middle">2,5</text>
<text class="d" transform="translate(588.9,78) rotate(-90)" text-anchor="middle">2,5</text>
<text class="d" transform="translate(622,84) rotate(-90)" text-anchor="middle">2,5</text>
<text class="d" transform="translate(695.2,280) rotate(-90)" text-anchor="middle">2</text>
<text class="d" transform="translate(695.2,308) rotate(-90)" text-anchor="middle">2</text>
<text class="d" transform="translate(695.2,327) rotate(-90)" text-anchor="middle">2</text>
<text class="d" transform="translate(695.2,351) rotate(-90)" text-anchor="middle">2</text>
<text class="d" transform="translate(695.2,381) rotate(-90)" text-anchor="middle">2</text>
<text class="d" transform="translate(695.2,406) rotate(-90)" text-anchor="middle">2</text>
<text class="d" transform="translate(695.2,430) rotate(-90)" text-anchor="middle">2</text>
<text class="d" transform="translate(547,364) rotate(-90)" text-anchor="middle">1,6</text>
<text class="d" x="425" y="128.6" text-anchor="middle">1,95</text>
<text class="d" x="492" y="113.3" text-anchor="middle">1,95</text>
<text class="d" x="514" y="118.3" text-anchor="middle">1,25</text>
<text class="d" x="518" y="109" text-anchor="middle">4,25</text>
<text class="d" x="569" y="97.3" text-anchor="middle">1,95</text>
<text class="d" x="603" y="97.3" text-anchor="middle">1,95</text>
<text class="d" x="635" y="97.3" text-anchor="middle">1,95</text>
<text class="d" x="655" y="110.2" text-anchor="middle">1,80</text>
<text class="d" x="552" y="162.8" text-anchor="middle">1,95</text>
<text class="d" x="602" y="199.2" text-anchor="middle">1,95</text>
<text class="d" x="536" y="268.7" text-anchor="middle">1,95</text>
<text class="d" x="538" y="332.5" text-anchor="middle">1,95</text>
<text class="d" x="600" y="332.5" text-anchor="middle">1,95</text>
<text class="d" x="643" y="304.4" text-anchor="middle">5,50</text>
<text class="d" x="670" y="338.3" text-anchor="middle">5,50</text>
<text class="d" x="720" y="338.3" text-anchor="middle">5,07</text>
<text class="d" x="705" y="367.7" text-anchor="middle">2,35</text>
<text class="d" x="705" y="386.7" text-anchor="middle">2,70</text>
<text class="d" x="686" y="416.5" text-anchor="middle">2,56</text>
<text class="d" x="718" y="416.5" text-anchor="middle">2,51</text>
<text class="d" x="745" y="313.2" text-anchor="middle">2,00</text>
<text class="d" x="724" y="299.2" text-anchor="middle">1,00</text>
<text class="d" x="816" y="375.5" text-anchor="middle">1,95</text>
<text class="d" x="366" y="459.6" text-anchor="middle">1,95</text>
<text class="d" x="824" y="459.5" text-anchor="middle">1,95</text>
<text class="d" x="729" y="230" text-anchor="middle">1,95</text>
<text class="d" x="452" y="438.5" text-anchor="middle">1,95</text>
<text class="d" x="415" y="487.6" text-anchor="middle">5,90</text>
<text class="d" x="475" y="487.6" text-anchor="middle">5,90</text>
<text class="d" x="535" y="487.6" text-anchor="middle">5,90</text>
<text class="d" x="595" y="487.6" text-anchor="middle">5,90</text>
<text class="d" x="655" y="487.6" text-anchor="middle">5,90</text>
<text class="d" x="715" y="487.6" text-anchor="middle">5,90</text>
<text class="d" x="775" y="487.6" text-anchor="middle">5,90</text>
<text class="d" transform="translate(379.5,478) rotate(-90)" text-anchor="middle">2,5</text>
<text class="d" transform="translate(811,474) rotate(-90)" text-anchor="middle">2,5</text>
<text class="d" transform="translate(449,493) rotate(-90)" text-anchor="middle">2</text>
<text class="d" transform="translate(744.4,493) rotate(-90)" text-anchor="middle">2</text>
<text class="d" transform="translate(441.5,432) rotate(-90)" text-anchor="middle">2</text>
<circle cx="729" cy="465" r="1.5" fill="none" stroke="#aaa" stroke-width="0.6"/>
</g>
<text class="b" x="159.8" y="25.8" text-anchor="end" textLength="32.3" lengthAdjust="spacingAndGlyphs">Precio</text>
<text class="b" x="159.8" y="44.7" text-anchor="end" textLength="33.1" lengthAdjust="spacingAndGlyphs">Actual</text>
<text class="b" x="84.8" y="44.7" text-anchor="end" textLength="45.1" lengthAdjust="spacingAndGlyphs">Núm. PK</text>
<rect x="12.5" y="283.00" width="150.2" height="19.5" fill="#f9a7aa" stroke="#d8121b" stroke-width="3"/>
<rect x="12.5" y="321.70" width="150.2" height="19.5" fill="#f9a7aa" stroke="#d8121b" stroke-width="3"/>
<rect x="12.5" y="379.75" width="150.2" height="19.5" fill="#f9a7aa" stroke="#d8121b" stroke-width="3"/>
<text class="b" x="84.8" y="64.90" text-anchor="end" textLength="12.3" lengthAdjust="spacingAndGlyphs">P1</text>
<text class="b" x="159.7" y="64.90" text-anchor="end" textLength="61.5" lengthAdjust="spacingAndGlyphs">16.920,00 €</text>
<text class="b" x="84.8" y="84.25" text-anchor="end" textLength="12.3" lengthAdjust="spacingAndGlyphs">P2</text>
<text class="b" x="159.7" y="84.25" text-anchor="end" textLength="61.5" lengthAdjust="spacingAndGlyphs">16.920,00 €</text>
<text class="b" x="84.8" y="103.60" text-anchor="end" textLength="12.3" lengthAdjust="spacingAndGlyphs">P3</text>
<text class="b" x="159.7" y="103.60" text-anchor="end" textLength="61.5" lengthAdjust="spacingAndGlyphs">16.920,00 €</text>
<text class="b" x="84.8" y="122.95" text-anchor="end" textLength="12.3" lengthAdjust="spacingAndGlyphs">P4</text>
<text class="b" x="159.7" y="122.95" text-anchor="end" textLength="61.5" lengthAdjust="spacingAndGlyphs">16.920,00 €</text>
<text class="b" x="84.8" y="142.30" text-anchor="end" textLength="12.3" lengthAdjust="spacingAndGlyphs">P5</text>
<text class="b" x="159.7" y="142.30" text-anchor="end" textLength="61.5" lengthAdjust="spacingAndGlyphs">16.920,00 €</text>
<text class="b" x="84.8" y="161.65" text-anchor="end" textLength="12.3" lengthAdjust="spacingAndGlyphs">P6</text>
<text class="b" x="159.7" y="161.65" text-anchor="end" textLength="61.5" lengthAdjust="spacingAndGlyphs">16.920,00 €</text>
<text class="b" x="84.8" y="181.00" text-anchor="end" textLength="12.3" lengthAdjust="spacingAndGlyphs">P7</text>
<text class="b" x="159.7" y="181.00" text-anchor="end" textLength="61.5" lengthAdjust="spacingAndGlyphs">16.920,00 €</text>
<text class="b" x="84.8" y="200.35" text-anchor="end" textLength="12.3" lengthAdjust="spacingAndGlyphs">P8</text>
<text class="b" x="159.7" y="200.35" text-anchor="end" textLength="61.5" lengthAdjust="spacingAndGlyphs">16.920,00 €</text>
<text class="b" x="84.8" y="219.70" text-anchor="end" textLength="12.3" lengthAdjust="spacingAndGlyphs">P9</text>
<text class="b" x="159.7" y="219.70" text-anchor="end" textLength="61.5" lengthAdjust="spacingAndGlyphs">16.920,00 €</text>
<text class="b" x="84.8" y="239.05" text-anchor="end" textLength="19.2" lengthAdjust="spacingAndGlyphs">P10</text>
<text class="b" x="159.7" y="239.05" text-anchor="end" textLength="54.9" lengthAdjust="spacingAndGlyphs">6.030,00 €</text>
<text class="b" x="84.8" y="258.40" text-anchor="end" textLength="19.2" lengthAdjust="spacingAndGlyphs">P11</text>
<text class="b" x="159.7" y="258.40" text-anchor="end" textLength="61.5" lengthAdjust="spacingAndGlyphs">18.000,00 €</text>
<text class="b" x="84.8" y="277.75" text-anchor="end" textLength="19.2" lengthAdjust="spacingAndGlyphs">P12</text>
<text class="b" x="159.7" y="277.75" text-anchor="end" textLength="61.5" lengthAdjust="spacingAndGlyphs">18.000,00 €</text>
<text class="r" x="85" y="297.10" text-anchor="end" textLength="19.2" lengthAdjust="spacingAndGlyphs">P13</text>
<text class="r" x="125.3" y="297.10" text-anchor="middle" textLength="49.5" lengthAdjust="spacingAndGlyphs">VENDIDO</text>
<text class="b" x="84.8" y="316.45" text-anchor="end" textLength="19.2" lengthAdjust="spacingAndGlyphs">P14</text>
<text class="b" x="159.7" y="316.45" text-anchor="end" textLength="61.5" lengthAdjust="spacingAndGlyphs">22.950,00 €</text>
<text class="r" x="85" y="335.80" text-anchor="end" textLength="19.2" lengthAdjust="spacingAndGlyphs">P15</text>
<text class="r" x="125.3" y="335.80" text-anchor="middle" textLength="49.5" lengthAdjust="spacingAndGlyphs">VENDIDO</text>
<text class="b" x="84.8" y="355.15" text-anchor="end" textLength="19.2" lengthAdjust="spacingAndGlyphs">P16</text>
<text class="b" x="159.7" y="355.15" text-anchor="end" textLength="61.5" lengthAdjust="spacingAndGlyphs">22.950,00 €</text>
<text class="b" x="84.8" y="374.50" text-anchor="end" textLength="19.2" lengthAdjust="spacingAndGlyphs">P17</text>
<text class="b" x="159.7" y="374.50" text-anchor="end" textLength="61.5" lengthAdjust="spacingAndGlyphs">22.950,00 €</text>
<text class="r" x="85" y="393.85" text-anchor="end" textLength="19.2" lengthAdjust="spacingAndGlyphs">P18</text>
<text class="r" x="125.3" y="393.85" text-anchor="middle" textLength="49.5" lengthAdjust="spacingAndGlyphs">VENDIDO</text>
<text class="b" x="84.8" y="413.20" text-anchor="end" textLength="19.2" lengthAdjust="spacingAndGlyphs">P19</text>
<text class="b" x="159.7" y="413.20" text-anchor="end" textLength="61.5" lengthAdjust="spacingAndGlyphs">15.930,00 €</text>
<text class="b" x="84.8" y="432.55" text-anchor="end" textLength="19.2" lengthAdjust="spacingAndGlyphs">P20</text>
<text class="b" x="159.7" y="432.55" text-anchor="end" textLength="61.5" lengthAdjust="spacingAndGlyphs">15.930,00 €</text>
<text class="b" x="84.8" y="451.90" text-anchor="end" textLength="19.2" lengthAdjust="spacingAndGlyphs">P21</text>
<text class="b" x="159.7" y="451.90" text-anchor="end" textLength="54.9" lengthAdjust="spacingAndGlyphs">5.130,00 €</text>
<text class="b" x="84.8" y="471.25" text-anchor="end" textLength="19.2" lengthAdjust="spacingAndGlyphs">P22</text>
<text class="b" x="159.7" y="471.25" text-anchor="end" textLength="61.5" lengthAdjust="spacingAndGlyphs">16.920,00 €</text>
<text class="b" x="84.8" y="490.60" text-anchor="end" textLength="19.2" lengthAdjust="spacingAndGlyphs">P23</text>
<text class="b" x="159.7" y="490.60" text-anchor="end" textLength="61.5" lengthAdjust="spacingAndGlyphs">19.170,00 €</text>
<text class="b" x="84.8" y="509.95" text-anchor="end" textLength="19.2" lengthAdjust="spacingAndGlyphs">P24</text>
<text class="b" x="159.7" y="509.95" text-anchor="end" textLength="61.5" lengthAdjust="spacingAndGlyphs">19.170,00 €</text>
<text class="b" x="84.8" y="529.30" text-anchor="end" textLength="19.2" lengthAdjust="spacingAndGlyphs">P25</text>
<text class="b" x="159.7" y="529.30" text-anchor="end" textLength="61.5" lengthAdjust="spacingAndGlyphs">18.000,00 €</text>
<text class="b" x="84.8" y="548.65" text-anchor="end" textLength="19.2" lengthAdjust="spacingAndGlyphs">P26</text>
<text class="b" x="159.7" y="548.65" text-anchor="end" textLength="54.9" lengthAdjust="spacingAndGlyphs">5.130,00 €</text>
<text class="b" x="329.8" y="25.8" text-anchor="end" textLength="32.3" lengthAdjust="spacingAndGlyphs">Precio</text>
<text class="b" x="329.8" y="44.7" text-anchor="end" textLength="33.1" lengthAdjust="spacingAndGlyphs">Actual</text>
<text class="b" x="254.8" y="44.7" text-anchor="end" textLength="45.1" lengthAdjust="spacingAndGlyphs">Núm. PK</text>
<rect x="182.5" y="70.15" width="150.2" height="19.5" fill="#f9a7aa" stroke="#d8121b" stroke-width="3"/>
<rect x="182.5" y="89.50" width="150.2" height="19.5" fill="#f9a7aa" stroke="#d8121b" stroke-width="3"/>
<rect x="182.5" y="244.30" width="150.2" height="19.5" fill="#f9a7aa" stroke="#d8121b" stroke-width="3"/>
<rect x="182.5" y="263.65" width="150.2" height="19.5" fill="#f9a7aa" stroke="#d8121b" stroke-width="3"/>
<rect x="182.5" y="360.40" width="150.2" height="19.5" fill="#f9a7aa" stroke="#d8121b" stroke-width="3"/>
<text class="b" x="254.8" y="64.90" text-anchor="end" textLength="19.2" lengthAdjust="spacingAndGlyphs">P27</text>
<text class="b" x="329.7" y="64.90" text-anchor="end" textLength="54.9" lengthAdjust="spacingAndGlyphs">5.130,00 €</text>
<text class="r" x="255" y="84.25" text-anchor="end" textLength="19.2" lengthAdjust="spacingAndGlyphs">P28</text>
<text class="r" x="295.3" y="84.25" text-anchor="middle" textLength="49.5" lengthAdjust="spacingAndGlyphs">VENDIDO</text>
<text class="r" x="255" y="103.60" text-anchor="end" textLength="19.2" lengthAdjust="spacingAndGlyphs">P29</text>
<text class="r" x="295.3" y="103.60" text-anchor="middle" textLength="49.5" lengthAdjust="spacingAndGlyphs">VENDIDO</text>
<text class="b" x="254.8" y="122.95" text-anchor="end" textLength="19.2" lengthAdjust="spacingAndGlyphs">P30</text>
<text class="b" x="329.7" y="122.95" text-anchor="end" textLength="54.9" lengthAdjust="spacingAndGlyphs">5.130,00 €</text>
<text class="b" x="254.8" y="142.30" text-anchor="end" textLength="19.2" lengthAdjust="spacingAndGlyphs">P31</text>
<text class="b" x="329.7" y="142.30" text-anchor="end" textLength="54.9" lengthAdjust="spacingAndGlyphs">5.130,00 €</text>
<text class="b" x="254.8" y="161.65" text-anchor="end" textLength="19.2" lengthAdjust="spacingAndGlyphs">P32</text>
<text class="b" x="329.7" y="161.65" text-anchor="end" textLength="61.5" lengthAdjust="spacingAndGlyphs">19.170,00 €</text>
<text class="b" x="254.8" y="181.00" text-anchor="end" textLength="19.2" lengthAdjust="spacingAndGlyphs">P33</text>
<text class="b" x="329.7" y="181.00" text-anchor="end" textLength="61.5" lengthAdjust="spacingAndGlyphs">18.180,00 €</text>
<text class="b" x="254.8" y="200.35" text-anchor="end" textLength="19.2" lengthAdjust="spacingAndGlyphs">P34</text>
<text class="b" x="329.7" y="200.35" text-anchor="end" textLength="61.5" lengthAdjust="spacingAndGlyphs">11.970,00 €</text>
<text class="b" x="254.8" y="219.70" text-anchor="end" textLength="19.2" lengthAdjust="spacingAndGlyphs">P35</text>
<text class="b" x="329.7" y="219.70" text-anchor="end" textLength="61.5" lengthAdjust="spacingAndGlyphs">16.920,00 €</text>
<text class="b" x="254.8" y="239.05" text-anchor="end" textLength="19.2" lengthAdjust="spacingAndGlyphs">P36</text>
<text class="b" x="329.7" y="239.05" text-anchor="end" textLength="61.5" lengthAdjust="spacingAndGlyphs">16.920,00 €</text>
<text class="r" x="255" y="258.40" text-anchor="end" textLength="19.2" lengthAdjust="spacingAndGlyphs">P37</text>
<text class="r" x="295.3" y="258.40" text-anchor="middle" textLength="49.5" lengthAdjust="spacingAndGlyphs">VENDIDO</text>
<text class="r" x="255" y="277.75" text-anchor="end" textLength="19.2" lengthAdjust="spacingAndGlyphs">P38</text>
<text class="r" x="295.3" y="277.75" text-anchor="middle" textLength="49.5" lengthAdjust="spacingAndGlyphs">VENDIDO</text>
<text class="b" x="254.8" y="297.10" text-anchor="end" textLength="19.2" lengthAdjust="spacingAndGlyphs">P39</text>
<text class="b" x="329.7" y="297.10" text-anchor="end" textLength="61.5" lengthAdjust="spacingAndGlyphs">11.970,00 €</text>
<text class="b" x="254.8" y="316.45" text-anchor="end" textLength="19.2" lengthAdjust="spacingAndGlyphs">P40</text>
<text class="b" x="329.7" y="316.45" text-anchor="end" textLength="61.5" lengthAdjust="spacingAndGlyphs">23.940,00 €</text>
<text class="b" x="254.8" y="335.80" text-anchor="end" textLength="19.2" lengthAdjust="spacingAndGlyphs">P41</text>
<text class="b" x="329.7" y="335.80" text-anchor="end" textLength="61.5" lengthAdjust="spacingAndGlyphs">18.000,00 €</text>
<text class="b" x="254.8" y="355.15" text-anchor="end" textLength="19.2" lengthAdjust="spacingAndGlyphs">P42</text>
<text class="b" x="329.7" y="355.15" text-anchor="end" textLength="61.5" lengthAdjust="spacingAndGlyphs">18.000,00 €</text>
<text class="r" x="255" y="374.50" text-anchor="end" textLength="19.2" lengthAdjust="spacingAndGlyphs">P43</text>
<text class="r" x="295.3" y="374.50" text-anchor="middle" textLength="49.5" lengthAdjust="spacingAndGlyphs">VENDIDO</text>
<text class="b" x="254.8" y="393.85" text-anchor="end" textLength="19.2" lengthAdjust="spacingAndGlyphs">P44</text>
<text class="b" x="329.7" y="393.85" text-anchor="end" textLength="61.5" lengthAdjust="spacingAndGlyphs">18.000,00 €</text>
<text class="b" x="254.8" y="413.20" text-anchor="end" textLength="19.2" lengthAdjust="spacingAndGlyphs">P45</text>
<text class="b" x="329.7" y="413.20" text-anchor="end" textLength="54.9" lengthAdjust="spacingAndGlyphs">5.130,00 €</text>
<text class="b" x="254.8" y="432.55" text-anchor="end" textLength="19.2" lengthAdjust="spacingAndGlyphs">P46</text>
<text class="b" x="329.7" y="432.55" text-anchor="end" textLength="54.9" lengthAdjust="spacingAndGlyphs">5.130,00 €</text>
<text class="b" x="254.8" y="451.90" text-anchor="end" textLength="19.2" lengthAdjust="spacingAndGlyphs">P47</text>
<text class="b" x="329.7" y="451.90" text-anchor="end" textLength="61.5" lengthAdjust="spacingAndGlyphs">22.950,00 €</text>
<text class="b" x="254.8" y="471.25" text-anchor="end" textLength="19.2" lengthAdjust="spacingAndGlyphs">P48</text>
<text class="b" x="329.7" y="471.25" text-anchor="end" textLength="61.5" lengthAdjust="spacingAndGlyphs">22.950,00 €</text>
<text class="b" x="254.8" y="490.60" text-anchor="end" textLength="19.2" lengthAdjust="spacingAndGlyphs">P49</text>
<text class="b" x="329.7" y="490.60" text-anchor="end" textLength="61.5" lengthAdjust="spacingAndGlyphs">22.950,00 €</text>
<text class="b" x="254.8" y="509.95" text-anchor="end" textLength="19.2" lengthAdjust="spacingAndGlyphs">P50</text>
<text class="b" x="329.7" y="509.95" text-anchor="end" textLength="61.5" lengthAdjust="spacingAndGlyphs">18.000,00 €</text>
<text class="b" x="254.8" y="529.30" text-anchor="end" textLength="19.2" lengthAdjust="spacingAndGlyphs">P51</text>
<text class="b" x="329.7" y="529.30" text-anchor="end" textLength="61.5" lengthAdjust="spacingAndGlyphs">18.000,00 €</text>
<text class="b" x="254.8" y="548.65" text-anchor="end" textLength="19.2" lengthAdjust="spacingAndGlyphs">P52</text>
<text class="b" x="329.7" y="548.65" text-anchor="end" textLength="61.5" lengthAdjust="spacingAndGlyphs">18.000,00 €</text>
</svg>
</body></html>
